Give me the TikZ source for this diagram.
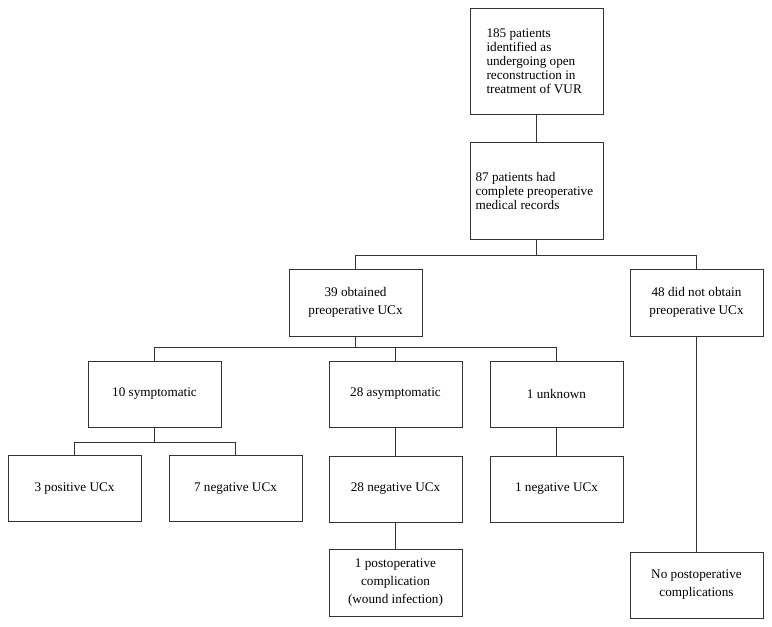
\documentclass[tikz,border=0pt]{standalone}
\usepackage{fontspec}
\setmainfont{Liberation Serif}
\begin{document}
\begin{tikzpicture}[x=1pt,y=-1pt,
  box/.style={draw=black!80,line width=0.9pt,minimum width=133pt,minimum height=66pt,inner sep=0pt,align=center,font=\fontsize{13.2}{18}\selectfont},
  tight/.style={font=\fontsize{13.2}{14}\selectfont},
  conn/.style={draw=black!80,line width=0.9pt}]
\useasboundingbox (0,0) rectangle (772,627);
\node[box,tight,minimum height=106pt] (a) at (536.5,61) {\begin{minipage}{100pt}185 patients\\identified as\\undergoing open\\reconstruction in\\treatment of VUR\end{minipage}};
\node[box,tight,minimum height=97pt] (b) at (536.5,190.5) {\begin{minipage}{122pt}87 patients had\\complete preoperative\\medical records\end{minipage}};
\node[box,minimum height=67pt] (c) at (355.5,302.5) {39 obtained\\preoperative UCx};
\node[box,minimum height=67pt] (d) at (696.5,302.5) {48 did not obtain\\preoperative UCx};
\node[box] (e) at (154.5,394) {10 symptomatic};
\node[box] (f) at (395.5,394) {28 asymptomatic};
\node[box] (g) at (556.5,394) {1 unknown};
\node[box] (h) at (74.5,488.5) {3 positive UCx};
\node[box] (i) at (235.5,488.5) {7 negative UCx};
\node[box] (j) at (395.5,489) {28 negative UCx};
\node[box] (k) at (556.5,489) {1 negative UCx};
\node[box,minimum height=67pt] (l) at (395.5,582.5) {1 postoperative\\complication\\(wound infection)};
\node[box,minimum height=66pt] (m) at (696.5,585) {No postoperative\\complications};
\draw[conn] (a) -- (b);
\draw[conn] (b.south) -- ++(0,16) -| (c.north);
\draw[conn] (b.south) -- ++(0,16) -| (d.north);
\draw[conn] (c.south) -- ++(0,11) -| (e.north);
\draw[conn] (c.south) -- ++(0,11) -| (f.north);
\draw[conn] (c.south) -- ++(0,11) -| (g.north);
\draw[conn] (e.south) -- ++(0,15) -| (h.north);
\draw[conn] (e.south) -- ++(0,15) -| (i.north);
\draw[conn] (f) -- (j);
\draw[conn] (g) -- (k);
\draw[conn] (j) -- (l);
\draw[conn] (d) -- (m);
\end{tikzpicture}
\end{document}
